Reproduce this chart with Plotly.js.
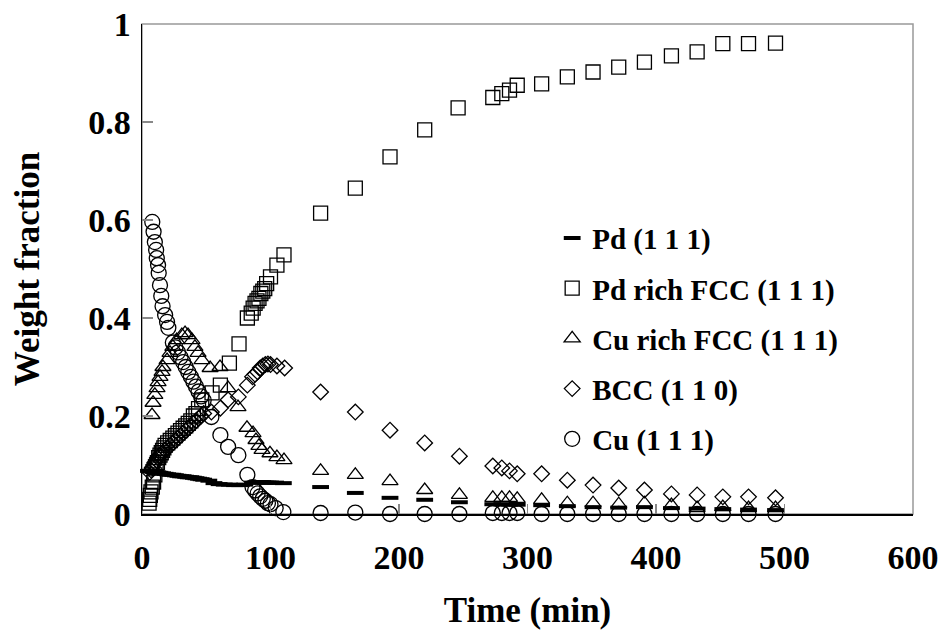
<!DOCTYPE html>
<html>
<head>
<meta charset="utf-8">
<script src="https://cdn.plot.ly/plotly-3.0.1.min.js"></script>
<style>html,body{margin:0;padding:0;background:#fff;}#chart{width:943px;height:642px;}</style>
</head>
<body>
<div id="chart"></div>
<script>
// ---- data ----
const xTicks = [0, 100, 200, 300, 400, 500, 600];
const yTicks = [0, 0.2, 0.4, 0.6, 0.8, 1];

const tPd = [5, 6, 7, 8, 9, 10, 11, 12, 13, 14, 16, 18, 20, 22, 24, 26, 28, 30, 32, 34, 36, 38, 40, 42, 44, 46, 48, 52, 56, 60, 64, 68, 72, 76, 80, 86, 88, 90, 92, 94, 96, 98, 100, 104, 110, 139, 166, 193, 220, 247, 273, 280, 286, 292, 311, 331, 351, 371, 391, 412, 432, 452, 472, 493];
const wPd = [0.088, 0.088, 0.087, 0.087, 0.086, 0.086, 0.085, 0.085, 0.084, 0.084, 0.083, 0.082, 0.081, 0.080, 0.080, 0.079, 0.078, 0.077, 0.077, 0.076, 0.075, 0.075, 0.074, 0.073, 0.072, 0.071, 0.070, 0.068, 0.063, 0.061, 0.060, 0.060, 0.059, 0.059, 0.060, 0.064, 0.064, 0.065, 0.065, 0.065, 0.064, 0.064, 0.064, 0.064, 0.063, 0.055, 0.043, 0.033, 0.029, 0.024, 0.020, 0.020, 0.019, 0.019, 0.018, 0.016, 0.014, 0.013, 0.014, 0.012, 0.011, 0.010, 0.009, 0.008];

const tPdRich = [5.5, 6, 6.5, 7, 8, 9, 10, 11, 12, 13, 14, 15, 16, 17, 18, 20, 22, 24, 26, 28, 30, 32, 34, 36, 38, 40, 42, 44, 46.5, 54.5, 61, 68, 75.5, 82, 85, 86.5, 88, 89.5, 91, 92.5, 94, 95.5, 97, 100, 105, 110.5, 139, 166, 193, 220, 246, 273, 280, 286, 292, 311, 331, 351, 371, 391, 412, 432, 452, 472, 493];
const wPdRich = [0.022, 0.030, 0.038, 0.045, 0.055, 0.065, 0.080, 0.095, 0.105, 0.115, 0.120, 0.125, 0.130, 0.135, 0.140, 0.145, 0.150, 0.155, 0.160, 0.165, 0.170, 0.175, 0.180, 0.185, 0.190, 0.200, 0.205, 0.215, 0.233, 0.247, 0.263, 0.308, 0.347, 0.400, 0.410, 0.420, 0.430, 0.435, 0.440, 0.450, 0.455, 0.460, 0.470, 0.484, 0.508, 0.529, 0.614, 0.665, 0.729, 0.784, 0.829, 0.850, 0.858, 0.865, 0.875, 0.878, 0.892, 0.902, 0.912, 0.922, 0.935, 0.943, 0.960, 0.960, 0.961];

const tCuRich = [7.8, 8.6, 10, 11.7, 12.5, 14, 15.6, 16.3, 19.5, 21.8, 24, 27, 31, 33.5, 35.8, 38.9, 41.2, 43.6, 46.7, 53, 60.7, 67, 74.7, 81.7, 86.4, 88.7, 91, 93.4, 99.6, 105, 110.5, 139, 166, 193, 220, 247, 273, 280, 286, 292, 311, 331, 351, 371, 391, 412, 432, 452, 472, 493];
const wCuRich = [0.202, 0.227, 0.243, 0.257, 0.269, 0.280, 0.290, 0.300, 0.314, 0.329, 0.341, 0.355, 0.365, 0.369, 0.365, 0.355, 0.341, 0.329, 0.314, 0.298, 0.300, 0.257, 0.218, 0.176, 0.165, 0.151, 0.139, 0.131, 0.124, 0.116, 0.110, 0.088, 0.080, 0.067, 0.049, 0.039, 0.033, 0.033, 0.033, 0.031, 0.029, 0.022, 0.022, 0.020, 0.022, 0.018, 0.012, 0.014, 0.012, 0.012];

const tBCC = [6, 7, 8, 9, 10, 11, 12, 13, 14, 15, 16, 18, 20, 22, 24, 26, 28, 30, 32, 34, 36, 38, 40, 42, 44, 46, 48, 54, 61, 67, 75, 82, 86, 88, 90, 92, 94, 96, 98, 100, 105, 111, 139, 166, 193, 220, 247, 273, 280, 286, 292, 311, 331, 351, 371, 391, 412, 432, 452, 472, 493];
const wBCC = [0.085, 0.090, 0.095, 0.100, 0.105, 0.110, 0.115, 0.118, 0.120, 0.123, 0.125, 0.130, 0.135, 0.140, 0.145, 0.150, 0.155, 0.160, 0.165, 0.170, 0.175, 0.180, 0.185, 0.190, 0.195, 0.200, 0.205, 0.208, 0.216, 0.233, 0.239, 0.263, 0.280, 0.285, 0.290, 0.298, 0.302, 0.305, 0.306, 0.305, 0.302, 0.298, 0.249, 0.208, 0.171, 0.145, 0.118, 0.098, 0.094, 0.088, 0.082, 0.082, 0.069, 0.059, 0.053, 0.049, 0.041, 0.039, 0.035, 0.035, 0.033];

const tCu = [8, 9, 10, 11, 11.5, 12.5, 13, 14, 15, 16, 18, 19.5, 20.5, 24, 26, 28, 30, 32, 34, 36, 38, 40, 42, 44, 46, 48, 54, 61, 67, 75, 82, 86, 88, 90, 92, 94, 96, 98, 100, 104, 110, 139, 166, 193, 220, 247, 273, 280, 286, 292, 311, 331, 351, 371, 391, 412, 432, 452, 472, 493];
const wCu = [0.596, 0.576, 0.555, 0.539, 0.522, 0.508, 0.492, 0.467, 0.445, 0.424, 0.406, 0.392, 0.380, 0.350, 0.340, 0.330, 0.320, 0.310, 0.300, 0.290, 0.280, 0.270, 0.260, 0.250, 0.240, 0.232, 0.198, 0.161, 0.137, 0.120, 0.080, 0.055, 0.048, 0.042, 0.036, 0.031, 0.027, 0.022, 0.020, 0.012, 0.004, 0.002, 0.003, 0.000, 0.000, 0.000, 0.002, 0.002, 0.002, 0.002, 0.000, 0.000, 0.000, 0.000, 0.000, 0.000, 0.000, 0.000, 0.000, 0.000];

const names = ['Pd (1 1 1)', 'Pd rich FCC (1 1 1)', 'Cu rich FCC (1 1 1)', 'BCC (1 1 0)', 'Cu (1 1 1)'];

// ---- chart ----
const FONT = 'Liberation Serif, Times New Roman, serif';
function tr(x, y, name, symbol, size, lw, group) {
  return {
    type: 'scatter', mode: 'markers', x: x, y: y, name: name,
    legendgroup: group, cliponaxis: false,
    marker: {symbol: symbol, size: size, color: 'rgba(255,255,255,0)', line: {color: '#000', width: lw}}
  };
}
const traces = [
  tr(tPd, wPd, names[0], 'line-ew', 12, 4, 'g0'),
  tr(tPdRich, wPdRich, names[1], 'square', 14, 1.3, 'g1'),
  tr(tCuRich, wCuRich, names[2], 'triangle-up', 14, 1.3, 'g2'),
  tr(tBCC, wBCC, names[3], 'diamond', 12, 1.3, 'g3'),
  tr(tCu, wCu, names[4], 'circle', 15, 1.3, 'g4')
];

const layout = {
  width: 943, height: 642,
  margin: {l: 142, r: 30, t: 24, b: 128},
  paper_bgcolor: '#fff', plot_bgcolor: '#fff',
  font: {family: FONT, color: '#000', weight: 700},
  showlegend: true,
  legend: {
    x: 0.532, xanchor: 'left', y: 0.615, yanchor: 'top',
    font: {family: FONT, size: 29, color: '#000', weight: 700},
    bgcolor: 'rgba(0,0,0,0)', tracegroupgap: 9.5, itemwidth: 30
  },
  xaxis: {
    range: [0, 600], tickvals: xTicks, ticktext: xTicks.map(String),
    ticks: 'inside', ticklen: 10, tickcolor: '#888', tickwidth: 1.5,
    showgrid: false, zeroline: false,
    showline: true, linecolor: '#000', linewidth: 1.5,
    tickfont: {family: FONT, size: 34, color: '#000', weight: 700},
    ticklabelstandoff: 13,
    title: {text: 'Time (min)', font: {family: FONT, size: 35, color: '#000', weight: 700}, standoff: 22}
  },
  yaxis: {
    range: [0, 1], tickvals: yTicks, ticktext: ['0', '0.2', '0.4', '0.6', '0.8', '1'],
    ticks: 'inside', ticklen: 11, tickcolor: '#888', tickwidth: 1.5,
    showgrid: false, zeroline: false,
    showline: true, linecolor: '#000', linewidth: 1.5,
    tickfont: {family: FONT, size: 34, color: '#000', weight: 700},
    ticklabelstandoff: 3,
    title: {text: 'Weight fraction', font: {family: FONT, size: 35, color: '#000', weight: 700}, standoff: 38}
  },
  shapes: [{
    type: 'rect', xref: 'paper', yref: 'paper', x0: 0, x1: 1, y0: 0, y1: 1,
    line: {color: '#999', width: 1.5}, layer: 'below'
  }]
};

Plotly.newPlot('chart', traces, layout, {staticPlot: true, displayModeBar: false});
</script>
</body>
</html>
